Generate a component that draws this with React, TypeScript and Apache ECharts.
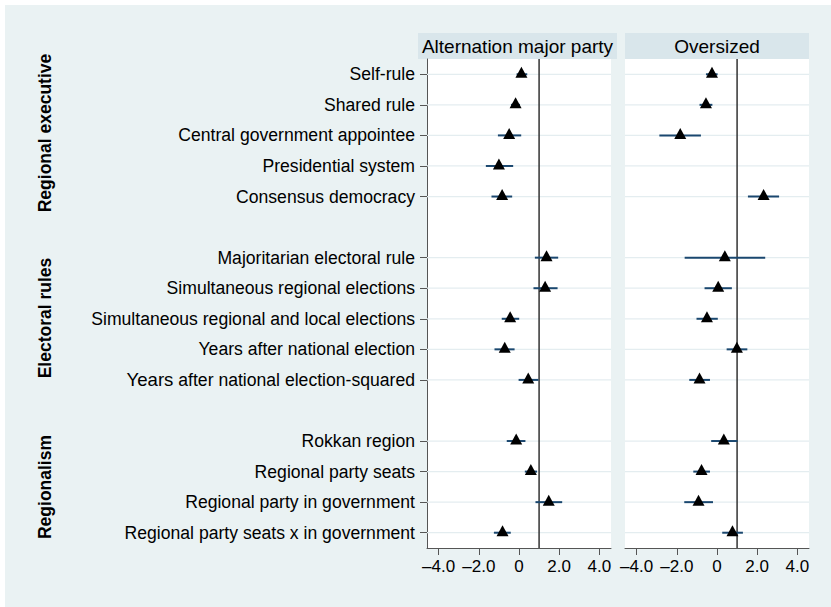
import React, { useEffect, useRef } from "react";
import * as echarts from "echarts";

// Row labels (blank strings are the gaps between groups)
const rowLabels: string[] = [
  "Self-rule",
  "Shared rule",
  "Central government appointee",
  "Presidential system",
  "Consensus democracy",
  "",
  "Majoritarian electoral rule",
  "Simultaneous regional elections",
  "Simultaneous regional and local elections",
  "Years after national election",
  "Years after national election-squared",
  " ",
  "Rokkan region",
  "Regional party seats",
  "Regional party in government",
  "Regional party seats x in government",
];

const panelTitles = ["Alternation major party", "Oversized"];
const groupLabels = ["Regional executive", "Electoral rules", "Regionalism"];

// Panel 1: Alternation major party
const altEst = [0.12, -0.17, -0.49, -1.0, -0.84, null, 1.37, 1.3, -0.44, -0.71, 0.46, null, -0.14, 0.59, 1.48, -0.82];
const altLo = [-0.12, -0.4, -1.05, -1.65, -1.37, null, 0.79, 0.72, -0.86, -1.22, -0.02, null, -0.61, 0.29, 0.82, -1.25];
const altHi = [0.41, 0.05, 0.11, -0.29, -0.34, null, 1.95, 1.92, 0.01, -0.22, 0.97, null, 0.32, 0.9, 2.15, -0.41];

// Panel 2: Oversized
const ovEst = [-0.25, -0.55, -1.83, null, 2.32, null, 0.39, 0.06, -0.5, 0.99, -0.87, null, 0.34, -0.77, -0.92, 0.77];
const ovLo = [-0.55, -0.87, -2.87, null, 1.54, null, -1.61, -0.62, -1.02, 0.48, -1.38, null, -0.29, -1.18, -1.63, 0.26];
const ovHi = [0.03, -0.23, -0.8, null, 3.09, null, 2.4, 0.74, 0.04, 1.51, -0.35, null, 1.02, -0.35, -0.2, 1.29];

const xTicks = [-4, -2, 0, 2, 4];
const refValue = 1;

const FONT = "'Liberation Sans', Arial, Helvetica, sans-serif";

export default function App() {
  const ref = useRef<HTMLDivElement>(null);

  useEffect(() => {
    if (!ref.current) return;
    const chart = echarts.init(ref.current, undefined, { renderer: "svg" });

    const panels = [
      { est: altEst, lo: altLo, hi: altHi },
      { est: ovEst, lo: ovLo, hi: ovHi },
    ];
    const gridLefts = [427, 625];

    const fmt = (v: number) => (v === 0 ? "0" : (v < 0 ? "\u2013" : "") + Math.abs(v).toFixed(1));

    const xAxis = panels.map((_, i) => ({
      type: "value",
      gridIndex: i,
      min: -4.58,
      max: 4.58,
      splitLine: { show: false },
      axisLine: { show: true, onZero: false, lineStyle: { color: "#555", width: 1 } },
      axisTick: { show: true, customValues: xTicks, length: 7, lineStyle: { color: "#555", width: 1 } },
      axisLabel: {
        customValues: xTicks,
        formatter: fmt,
        fontSize: 17,
        fontFamily: FONT,
        color: "#000",
        margin: 10,
      },
    }));

    const yAxis = panels.map((_, i) => ({
      type: "category",
      gridIndex: i,
      data: rowLabels,
      inverse: true,
      boundaryGap: true,
      splitLine: { show: false },
      axisLine: { show: i === 0, onZero: false, lineStyle: { color: "#555", width: 1 } },
      axisTick: {
        show: i === 0,
        alignWithLabel: true,
        length: 7,
        interval: (_idx: number, val: string) => val.trim() !== "",
        lineStyle: { color: "#555", width: 1 },
      },
      axisLabel: {
        show: i === 0,
        interval: 0,
        fontSize: 17.6,
        fontFamily: FONT,
        color: "#000",
        margin: 12,
        formatter: (val: string) =>
          val.startsWith("Years after national election-") ? "{b|Years}" + val.slice(5) : val,
        rich: { b: { fontSize: 18.6, fontFamily: FONT, color: "#000" } },
      },
    }));

    const series: any[] = [];
    panels.forEach((p, i) => {
      // horizontal grid lines at labelled rows
      series.push({
        type: "custom",
        xAxisIndex: i,
        yAxisIndex: i,
        z: 2,
        silent: true,
        data: rowLabels.map((l, k) => (l.trim() ? [0, k] : null)).filter((d) => d),
        renderItem: (params: any, api: any) => {
          const y = api.coord([0, api.value(1)])[1];
          const cs = params.coordSys;
          return {
            type: "line",
            shape: { x1: cs.x, y1: y, x2: cs.x + cs.width, y2: y },
            style: { stroke: "#e4edf0", lineWidth: 1.2 },
          };
        },
      });
      // reference line
      series.push({
        type: "custom",
        xAxisIndex: i,
        yAxisIndex: i,
        z: 3,
        silent: true,
        data: [[refValue, 0]],
        renderItem: (params: any, api: any) => {
          const x = api.coord([api.value(0), 0])[0];
          const cs = params.coordSys;
          return {
            type: "line",
            shape: { x1: x, y1: cs.y, x2: x, y2: cs.y + cs.height },
            style: { stroke: "#333", lineWidth: 1.5 },
          };
        },
      });
      // confidence intervals
      series.push({
        type: "custom",
        xAxisIndex: i,
        yAxisIndex: i,
        z: 4,
        silent: true,
        encode: { x: [0, 1], y: 2 },
        data: p.lo.map((lo, k) => (lo === null ? null : [lo, p.hi[k], k])).filter((d) => d),
        renderItem: (_params: any, api: any) => {
          const a = api.coord([api.value(0), api.value(2)]);
          const b = api.coord([api.value(1), api.value(2)]);
          return {
            type: "line",
            shape: { x1: a[0], y1: a[1], x2: b[0], y2: b[1] },
            style: { stroke: "#1a476f", lineWidth: 2 },
          };
        },
      });
      // point estimates
      series.push({
        type: "scatter",
        xAxisIndex: i,
        yAxisIndex: i,
        z: 5,
        symbol: "triangle",
        symbolSize: [12, 11],
        symbolOffset: [0, -2],
        itemStyle: { color: "#000", opacity: 1 },
        data: p.est.map((v, k) => (v === null ? null : [v, k])).filter((d) => d),
      });
    });

    const graphic: any[] = [];
    // panel headers
    const headers = [
      { x: 418, w: 199 },
      { x: 625, w: 184 },
    ];
    headers.forEach((h, i) => {
      graphic.push({
        type: "rect",
        shape: { x: h.x, y: 33, width: h.w, height: 26 },
        style: { fill: "#d9e6eb" },
        silent: true,
      });
      graphic.push({
        type: "text",
        x: h.x + h.w / 2,
        y: 46,
        style: {
          text: panelTitles[i],
          font: `19px ${FONT}`,
          fill: "#000",
          textAlign: "center",
          textVerticalAlign: "middle",
        },
        silent: true,
      });
    });
    // group labels
    const groupCenters = [133, 318, 487];
    groupLabels.forEach((g, i) => {
      graphic.push({
        type: "text",
        x: 45,
        y: groupCenters[i],
        rotation: Math.PI / 2,
        style: {
          text: g,
          font: `bold 17.5px ${FONT}`,
          fill: "#000",
          textAlign: "center",
          textVerticalAlign: "middle",
        },
        silent: true,
      });
    });

    chart.setOption({
      animation: false,
      backgroundColor: "transparent",
      grid: gridLefts.map((l) => ({
        left: l,
        top: 59,
        width: 184,
        height: 489,
        show: true,
        backgroundColor: "#fff",
        borderWidth: 0,
        containLabel: false,
      })),
      xAxis,
      yAxis,
      series,
      graphic,
    } as any);

    return () => chart.dispose();
  }, []);

  return (
    <div style={{ position: "fixed", left: 0, top: 0, width: 831, height: 607, background: "#fff" }}>
      <div style={{ position: "absolute", left: 5, top: 5, width: 826, height: 602, background: "#eaf2f3" }} />
      <div ref={ref} style={{ position: "absolute", left: 0, top: 0, width: 831, height: 607 }} />
    </div>
  );
}
